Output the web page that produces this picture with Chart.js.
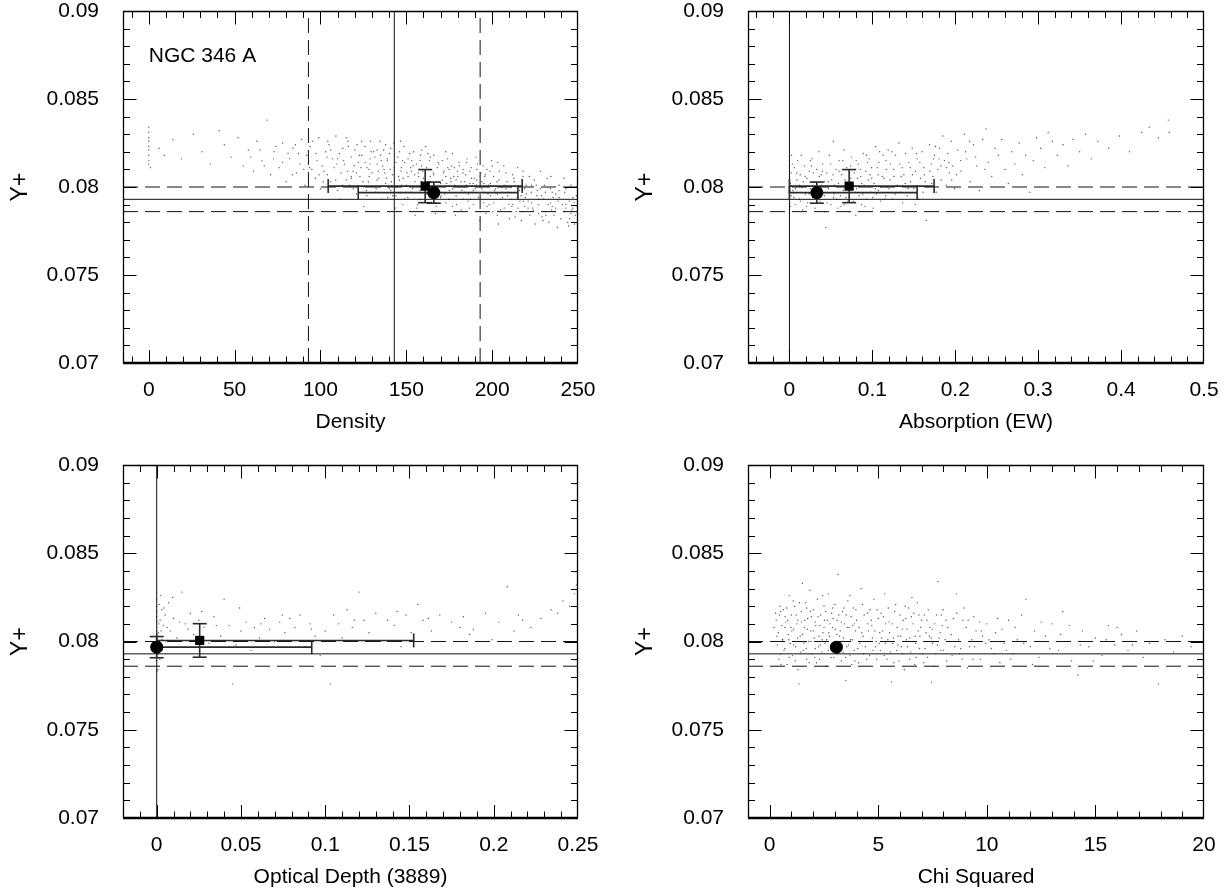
<!DOCTYPE html>
<html><head><meta charset="utf-8">
<script src="https://cdn.jsdelivr.net/npm/chart.js@4.4.1/dist/chart.umd.min.js"></script>
<style>
html,body{margin:0;padding:0;background:#fff;}
body{width:1231px;height:894px;position:relative;overflow:hidden;}
canvas{position:absolute;display:block;}
</style></head><body>
<canvas id="c1" width="615" height="447" style="left:0;top:0"></canvas>
<canvas id="c2" width="616" height="447" style="left:615px;top:0"></canvas>
<canvas id="c3" width="615" height="447" style="left:0;top:447px"></canvas>
<canvas id="c4" width="616" height="447" style="left:615px;top:447px"></canvas>
<script>
// ---------- tick labels ----------
const yTicks = [0.07, 0.075, 0.08, 0.085, 0.09];
const yTickLabels = ['0.07', '0.075', '0.08', '0.085', '0.09'];
const densityTicks = [0, 50, 100, 150, 200, 250];
const densityTickLabels = ['0', '50', '100', '150', '200', '250'];
const absorptionTicks = [0, 0.1, 0.2, 0.3, 0.4, 0.5];
const absorptionTickLabels = ['0', '0.1', '0.2', '0.3', '0.4', '0.5'];
const depthTicks = [0, 0.05, 0.1, 0.15, 0.2, 0.25];
const depthTickLabels = ['0', '0.05', '0.1', '0.15', '0.2', '0.25'];
const chiTicks = [0, 5, 10, 15, 20];
const chiTickLabels = ['0', '5', '10', '15', '20'];

// ---------- reference lines ----------
const yMean = 0.0793;
const yBand = [0.0800, 0.0786];
const densityMean = [143];
const densityBand = [93, 193];
const absorptionZero = [0];
const depthZero = [0];

// ---------- best-fit points: x, y, x-err(-), x-err(+), y-err(-), y-err(+) ----------
const densitySquare = [161, 0.08005, 56.5, 56.5, 0.00094, 0.00094];
const densityCircle = [166, 0.07968, 44, 49, 0.0006, 0.0006];
const absorptionSquare = [0.072, 0.08005, 0.072, 0.1025, 0.00094, 0.00094];
const absorptionCircle = [0.033, 0.07968, 0.033, 0.121, 0.0006, 0.0006];
const depthSquare = [0.0255, 0.08006, 0.0255, 0.127, 0.00095, 0.00095];
const depthCircle = [0, 0.07968, 0, 0.092, 0.0006, 0.0006];
const chiCircle = [3.07, 0.07968];

// ---------- Monte-Carlo realisations ----------
const densityPts = [
[0,0.0834],[0,0.0831],[0,0.0828],[0,0.0826],[0,0.0823],[0,0.0821],[0,0.0818],[0,0.0815],[0,0.0813],[1,0.0811],
[6,0.0822],[9,0.0818],[14,0.0827],[19,0.0816],[26,0.0830],[31,0.0820],[36,0.0813],[41,0.0832],[44,0.0824],[48,0.0817],
[52,0.0828],[55,0.0812],[58,0.0821],[61,0.0809],[63,0.0826],[66,0.0815],[69,0.0838],[71,0.0807],[73,0.0820],[76,0.0811],
[78,0.0825],[80,0.0803],[82,0.0816],[84,0.0822],[86,0.0808],[88,0.0813],[89,0.0827],[91,0.0801],[92,0.0818],
[94,0.0823],[95,0.0810],[97,0.0805],[98,0.0815],[99,0.0828],[100,0.0799],[101,0.0812],[103,0.0820],[104,0.0807],[105,0.0824],
[106,0.0803],[107,0.0816],[108,0.0811],[109,0.0829],[110,0.0798],[111,0.0819],[112,0.0808],[113,0.0822],[114,0.0813],[115,0.0804],
[116,0.0826],[117,0.0801],[118,0.0817],[119,0.0809],[120,0.0821],[121,0.0796],[122,0.0814],[123,0.0806],[124,0.0818],[125,0.0800],
[126,0.0823],[127,0.0811],[128,0.0803],[129,0.0816],[130,0.0808],
[131,0.0820],[132,0.0797],[133,0.0813],[134,0.0805],[135,0.0818],[136,0.0793],[137,0.0810],[138,0.0802],[139,0.0815],[140,0.0799],
[141,0.0822],[142,0.0807],[143,0.0811],[144,0.0795],[145,0.0817],[146,0.0804],[147,0.0809],[148,0.0790],[149,0.0814],[150,0.0801],
[151,0.0806],[152,0.0819],[153,0.0797],[154,0.0812],[155,0.0803],[156,0.0788],[157,0.0808],[158,0.0815],[159,0.0799],[160,0.0805],
[161,0.0792],[162,0.0810],[163,0.0802],[164,0.0817],[165,0.0796],[166,0.0807],[167,0.0785],[168,0.0800],[169,0.0813],[170,0.0794],
[171,0.0804],[172,0.0809],[173,0.0791],[174,0.0816],[175,0.0798],[176,0.0803],[177,0.0789],[178,0.0811],[179,0.0795],[180,0.0806],
[181,0.0800],[182,0.0787],[183,0.0808],[184,0.0797],[185,0.0814],[186,0.0792],[187,0.0802],[188,0.0805],[189,0.0790],[190,0.0799],
[191,0.0810],[192,0.0794],[193,0.0786],[194,0.0803],[195,0.0797],[196,0.0807],[197,0.0789],[198,0.0801],[199,0.0795],[200,0.0812],
[201,0.0791],[202,0.0799],[203,0.0784],[204,0.0804],[205,0.0793],[206,0.0797],[207,0.0788],[208,0.0808],[209,0.0795],[210,0.0782],
[211,0.0800],[212,0.0790],[213,0.0803],[214,0.0786],[215,0.0794],[216,0.0798],[217,0.0781],[218,0.0806],[219,0.0789],[220,0.0796],
[221,0.0792],[222,0.0784],[223,0.0801],[224,0.0787],[225,0.0779],[226,0.0795],[227,0.0790],[228,0.0799],[229,0.0783],[230,0.0793],
[231,0.0786],[232,0.0805],[233,0.0780],[234,0.0791],[235,0.0797],[236,0.0784],[237,0.0788],[238,0.0777],[239,0.0794],[240,0.0782],
[241,0.0790],[242,0.0786],[243,0.0799],[244,0.0780],[245,0.0792],[246,0.0785],[247,0.0788],[248,0.0779],[249,0.0795],[250,0.0783],
[121,0.0808],[124,0.0826],[127,0.0795],[133,0.0821],[135,0.0800],[138,0.0824],[141,0.0798],[144,0.0814],[146,0.0820],[149,0.0793],
[151,0.0816],[153,0.0809],[156,0.0813],[158,0.0798],[159,0.0821],[162,0.0796],[164,0.0803],[166,0.0818],[168,0.0811],[170,0.0802],
[171,0.0815],[173,0.0806],[175,0.0810],[177,0.0799],[179,0.0804],[181,0.0812],[183,0.0793],[185,0.0801],[187,0.0809],[189,0.0798],
[191,0.0804],[193,0.0800],[195,0.0791],[197,0.0810],[199,0.0802],[203,0.0796],[207,0.0801],[211,0.0793],[215,0.0788],[219,0.0799],
[223,0.0791],[227,0.0785],[231,0.0797],[235,0.0789],[239,0.0801],[243,0.0790],[247,0.0794],[129,0.0826],[115,0.0828],[110,0.0816],
[106,0.0821],[102,0.0809],[118,0.0805],[126,0.0814],
[97.4,0.0819],[112.8,0.0801],[104.3,0.0826],[119.6,0.0812],[108.9,0.0804],[131.7,0.0817],[125.2,0.0789],[137.5,0.0808],[142.8,0.0825],[128.4,0.0806],
[147.3,0.0801],[139.1,0.0794],[152.6,0.0811],[157.9,0.0793],[145.5,0.0806],[163.4,0.0815],[169.8,0.0797],[154.2,0.0820],[171.6,0.0808],[176.3,0.0812],
[160.7,0.0801],[181.9,0.0803],[167.4,0.0789],[186.2,0.0796],[174.8,0.0793],[190.5,0.0817],[178.6,0.0784],[195.7,0.0806],[183.1,0.0810],[201.4,0.0798],
[188.9,0.0802],[206.8,0.0812],[196.3,0.0785],[211.5,0.0789],[204.2,0.0809],[216.9,0.0795],[208.7,0.0803],[221.6,0.0806],[213.4,0.0783],[226.3,0.0798],
[218.2,0.0792],[232.7,0.0790],[224.5,0.0804],[237.1,0.0796],[229.6,0.0781],[241.8,0.0805],[233.9,0.0799],[246.5,0.0787],[238.4,0.0792],[249.2,0.0800],
[116.3,0.0823],[122.7,0.0818],[134.6,0.0826],[148.7,0.0823],[158.3,0.0818],[172.9,0.0820],[185.4,0.0816],[199.6,0.0815],[214.8,0.0811],[228.1,0.0809],
[132.4,0.0799],[143.6,0.0788],[155.1,0.0784],[166.9,0.0791],[179.2,0.0790],[192.8,0.0781],[203.7,0.0779],[217.4,0.0786],[231.2,0.0784],[244.6,0.0778],
[111.2,0.0793],[126.8,0.0798],[138.9,0.0816],[150.4,0.0808],[161.8,0.0811],[173.5,0.0802],[184.6,0.0807],[194.1,0.0799],[206.1,0.0794],[219.8,0.0801],
[235.6,0.0794],[247.8,0.0791],[101.6,0.0803],[93.7,0.0811],[87.2,0.0819],[83.6,0.0807],[77.9,0.0814],[74.1,0.0823],[67.3,0.0812],[59.4,0.0817],
[136.2,0.0812],[141.3,0.0803],[147.9,0.0815],[153.7,0.0799],[157.2,0.0806],[164.9,0.0800],[168.6,0.0814],[177.7,0.0806],[182.4,0.0798],[187.8,0.0811],
[193.4,0.0808],[198.2,0.0790],[202.9,0.0803],[209.3,0.0797],[212.6,0.0805],[220.9,0.0788],[225.7,0.0801],[236.5,0.0786],[242.3,0.0797],[248.4,0.0784],
[119.1,0.0799],[123.6,0.0811],[129.5,0.0820],[133.8,0.0809],[140.2,0.0819],[149.9,0.0797],[159.6,0.0809],[170.3,0.0795],[180.7,0.0814],[189.6,0.0805],
[113.5,0.0815],[117.9,0.0806],[121.3,0.0824],[124.8,0.0803],[128.9,0.0813],[132.9,0.0804],[136.8,0.0821],[140.7,0.0810],[144.3,0.0800],[147.1,0.0811],
[150.9,0.0794],[154.8,0.0807],[158.7,0.0803],[162.6,0.0819],[165.8,0.0808],[169.2,0.0803],[172.4,0.0796],[175.9,0.0805],[179.8,0.0809],[183.7,0.0800],
[187.3,0.0793],[190.9,0.0801],[194.7,0.0812],[197.6,0.0796],[200.8,0.0806],[204.9,0.0787],[208.1,0.0799],[211.9,0.0807],[215.7,0.0800],[219.3,0.0794],
[222.8,0.0797],[226.9,0.0793],[230.4,0.0801],[234.6,0.0787],[238.9,0.0798],[242.9,0.0788],[245.9,0.0801],[249.6,0.0789],[203.2,0.0814],[217.9,0.0809],
[142.1,0.0795],[156.6,0.0790],[171.2,0.0786],[186.7,0.0788],[200.3,0.0786],[161.3,0.0823],[146.6,0.0826],[176.9,0.0819],[191.4,0.0813],[135.4,0.0815],
[115.8,0.0809],[109.6,0.0813],[103.9,0.0817],[99.2,0.0807],[95.6,0.0826],[90.3,0.0810],[85.4,0.0824],[81.1,0.0819],[72.6,0.0816],[64.8,0.0821],
[167.9,0.0799],[178.1,0.0801],[188.3,0.0797],[198.7,0.0809],[209.8,0.0790],[223.4,0.0788],[234.2,0.0806],[245.1,0.0782],[153.2,0.0815],[163.9,0.0806],
[128.2,0.0810],[138.3,0.0805],[148.2,0.0805],[158.9,0.0812],[174.2,0.0811],[184.1,0.0803],[195.2,0.0802],[205.6,0.0800],[216.2,0.0792],[228.8,0.0795]
];
const absorptionPts = [
[0,0.0785],[0,0.0788],[0,0.0791],[0,0.0794],[0,0.0797],[0,0.0800],[0,0.0803],[0,0.0806],[0,0.0809],[0,0.0812],[0,0.0815],
[0.001,0.0789],[0.001,0.0802],[0.002,0.0795],[0.002,0.0808],
[0.004,0.0798],[0.006,0.0811],[0.007,0.0790],[0.009,0.0804],[0.010,0.0815],[0.012,0.0793],[0.013,0.0807],[0.015,0.0800],[0.016,0.0787],
[0.018,0.0812],[0.019,0.0796],[0.021,0.0805],[0.022,0.0791],[0.024,0.0809],[0.025,0.0799],[0.027,0.0816],[0.028,0.0794],[0.030,0.0803],
[0.031,0.0788],[0.033,0.0810],[0.034,0.0797],[0.036,0.0806],[0.037,0.0792],[0.039,0.0801],[0.040,0.0813],[0.042,0.0795],[0.043,0.0786],
[0.044,0.0777],[0.045,0.0808],[0.047,0.0799],[0.048,0.0818],[0.050,0.0790],[0.051,0.0804],[0.053,0.0826],[0.054,0.0796],[0.056,0.0810],
[0.057,0.0793],[0.059,0.0802],[0.060,0.0815],[0.062,0.0789],[0.063,0.0807],[0.065,0.0798],[0.066,0.0821],[0.068,0.0794],[0.069,0.0811],
[0.071,0.0800],[0.072,0.0786],[0.074,0.0805],[0.075,0.0817],[0.077,0.0792],[0.078,0.0808],[0.080,0.0784],[0.081,0.0799],[0.083,0.0813],
[0.084,0.0795],[0.086,0.0806],[0.087,0.0790],[0.089,0.0819],[0.090,0.0801],[0.092,0.0809],[0.093,0.0793],[0.095,0.0804],[0.096,0.0816],
[0.098,0.0797],[0.099,0.0811],[0.101,0.0788],[0.102,0.0802],[0.104,0.0823],[0.105,0.0796],[0.107,0.0807],[0.108,0.0814],[0.110,0.0792],
[0.111,0.0800],[0.113,0.0818],[0.114,0.0805],[0.116,0.0795],[0.117,0.0810],[0.119,0.0821],[0.120,0.0799],
[0.122,0.0813],[0.124,0.0793],[0.126,0.0806],[0.128,0.0818],[0.130,0.0801],[0.132,0.0825],[0.134,0.0797],[0.136,0.0811],[0.138,0.0807],
[0.140,0.0819],[0.142,0.0795],[0.144,0.0814],[0.146,0.0803],[0.148,0.0822],[0.150,0.0799],[0.152,0.0809],[0.154,0.0816],[0.156,0.0793],
[0.158,0.0805],[0.160,0.0820],[0.162,0.0811],[0.165,0.0781],[0.167,0.0800],[0.169,0.0824],[0.171,0.0813],[0.173,0.0806],[0.175,0.0818],
[0.177,0.0797],[0.179,0.0810],[0.181,0.0822],[0.183,0.0804],[0.185,0.0829],[0.187,0.0815],[0.189,0.0801],[0.191,0.0819],[0.193,0.0808],
[0.195,0.0826],[0.197,0.0812],[0.199,0.0799],
[0.203,0.0821],[0.207,0.0809],[0.211,0.0830],[0.214,0.0816],[0.218,0.0803],[0.222,0.0824],[0.226,0.0812],[0.229,0.0798],[0.233,0.0827],
[0.237,0.0833],[0.240,0.0814],[0.244,0.0806],[0.248,0.0822],[0.252,0.0818],[0.256,0.0827],[0.260,0.0810],[0.264,0.0802],[0.268,0.0820],
[0.272,0.0813],[0.277,0.0825],[0.281,0.0807],[0.285,0.0818],[0.290,0.0797],[0.294,0.0815],[0.298,0.0828],[0.303,0.0822],[0.308,0.0811],
[0.312,0.0831],[0.317,0.0826],[0.323,0.0818],[0.330,0.0824],[0.336,0.0812],[0.342,0.0827],[0.350,0.0820],[0.357,0.0830],[0.364,0.0816],
[0.372,0.0826],[0.385,0.0822],[0.398,0.0829],[0.410,0.0820],[0.425,0.0831],[0.434,0.0834],[0.445,0.0828],[0.457,0.0838],[0.458,0.0831],
[0.0035,0.0813],[0.0118,0.0801],[0.0206,0.0789],[0.0264,0.0812],[0.0317,0.0795],[0.0382,0.0807],[0.0453,0.0791],[0.0498,0.0813],[0.0547,0.0801],[0.0615,0.0795],
[0.0672,0.0804],[0.0738,0.0812],[0.0793,0.0797],[0.0856,0.0810],[0.0911,0.0789],[0.0972,0.0807],[0.1035,0.0799],[0.1088,0.0820],[0.1147,0.0793],[0.1213,0.0804],
[0.1276,0.0796],[0.1332,0.0813],[0.1395,0.0802],[0.1457,0.0811],[0.1518,0.0790],[0.1573,0.0814],[0.1638,0.0803],[0.1694,0.0809],[0.1762,0.0823],[0.1826,0.0812],
[0.0142,0.0818],[0.0238,0.0796],[0.0355,0.0820],[0.0421,0.0803],[0.0583,0.0788],[0.0644,0.0815],[0.0705,0.0792],[0.0821,0.0805],[0.0943,0.0814],[0.1004,0.0794],
[0.1118,0.0806],[0.1236,0.0820],[0.1364,0.0791],[0.1483,0.0807],[0.1611,0.0797],[0.1737,0.0816],[0.1894,0.0811],[0.1957,0.0804],[0.2065,0.0815],[0.2174,0.0826],
[0.0052,0.0794],[0.0087,0.0808],[0.0166,0.0803],[0.0289,0.0808],[0.0402,0.0797],[0.0526,0.0807],[0.0768,0.0801],[0.0884,0.0796],[0.1061,0.0811],[0.1179,0.0800],
[0.0025,0.0818],[0.0074,0.0799],[0.0132,0.0792],[0.0189,0.0806],[0.0253,0.0815],[0.0328,0.0791],[0.0397,0.0809],[0.0467,0.0803],[0.0532,0.0794],[0.0598,0.0809],
[0.0659,0.0790],[0.0727,0.0808],[0.0805,0.0815],[0.0872,0.0802],[0.0929,0.0818],[0.0993,0.0805],[0.1072,0.0798],[0.1164,0.0815],[0.1256,0.0810],[0.1347,0.0806],
[0.1432,0.0799],[0.1532,0.0819],[0.1627,0.0807],[0.1716,0.0802],[0.1805,0.0816],[0.1923,0.0814],[0.2013,0.0807],[0.2125,0.0820],[0.2246,0.0817],[0.2357,0.0810]
];
const depthPts = [
[0,0.0783],[0,0.0786],[0,0.0789],[0,0.0791],[0,0.0794],[0,0.0796],[0,0.0799],[0,0.0801],[0,0.0803],[0,0.0806],[0,0.0808],[0,0.0811],
[0,0.0814],[0,0.0817],[0,0.0820],[0,0.0824],[0,0.0828],[0.001,0.0793],[0.001,0.0805],[0.002,0.0812],[0.002,0.0798],[0.003,0.0818],
[0.003,0.0801],[0.004,0.0809],[0.005,0.0815],
[0.007,0.0822],[0.008,0.0806],[0.010,0.0813],[0.012,0.0802],[0.015,0.0828],[0.017,0.0810],[0.020,0.0816],[0.022,0.0804],[0.025,0.0812],
[0.028,0.0808],[0.031,0.0799],[0.034,0.0814],[0.038,0.0803],[0.040,0.0824],[0.043,0.0809],[0.045,0.0776],[0.047,0.0798],[0.050,0.0806],
[0.053,0.0811],[0.056,0.0795],[0.058,0.0808],[0.061,0.0802],[0.064,0.0813],[0.067,0.0807],[0.070,0.0800],[0.073,0.0811],[0.076,0.0805],
[0.079,0.0813],[0.082,0.0808],[0.085,0.0815],[0.088,0.0797],[0.091,0.0810],[0.094,0.0803],[0.097,0.0792],[0.100,0.0806],[0.103,0.0776],
[0.105,0.0815],[0.108,0.0810],[0.110,0.0802],[0.113,0.0818],[0.116,0.0808],[0.120,0.0828],[0.123,0.0812],[0.126,0.0805],[0.130,0.0816],
[0.133,0.0800],[0.137,0.0812],[0.141,0.0809],[0.145,0.0797],[0.148,0.0815],[0.151,0.0805],[0.155,0.0821],[0.158,0.0812],[0.163,0.0806],
[0.168,0.0815],[0.175,0.0811],[0.180,0.0808],[0.182,0.0814],[0.188,0.0807],[0.195,0.0816],[0.199,0.0801],[0.203,0.0811],[0.208,0.0831],
[0.212,0.0806],[0.217,0.0812],[0.222,0.0808],[0.228,0.0813],[0.234,0.0818],[0.238,0.0816],[0.241,0.0823],[0.245,0.0820],[0.248,0.0827],
[0.249,0.0832],
[0.0006,0.0784],[0.0008,0.0797],[0.0012,0.0810],[0.0015,0.0821],[0.0018,0.0790],[0.0022,0.0826],[0.0026,0.0806],[0.0031,0.0795],
[0.0043,0.0819],[0.0062,0.0808],[0.0094,0.0825],[0.0135,0.0811],[0.0186,0.0807],[0.0268,0.0817],[0.0354,0.0809],[0.0492,0.0819],
[0.0618,0.0810],[0.0745,0.0815],[0.0918,0.0807],[0.1172,0.0812],[0.1426,0.0817],[0.1612,0.0813],[0.1857,0.0804],[0.2146,0.0815]
];
const chiPts = [
[0.2,0.0808],[0.3,0.0812],[0.35,0.0798],[0.4,0.0805],[0.45,0.0815],[0.5,0.0793],[0.55,0.0809],[0.6,0.0801],[0.62,0.0818],[0.7,0.0796],
[0.75,0.0811],[0.8,0.0787],[0.85,0.0804],[0.9,0.0826],[0.95,0.0799],[1.0,0.0815],[1.05,0.0792],[1.1,0.0807],[1.15,0.0820],[1.2,0.0797],
[1.25,0.0810],[1.3,0.0784],[1.35,0.0776],[1.4,0.0803],[1.45,0.0817],[1.5,0.0833],[1.55,0.0795],[1.6,0.0808],[1.65,0.0822],[1.7,0.0790],
[1.75,0.0813],[1.8,0.0800],[1.85,0.0829],[1.9,0.0806],[1.95,0.0793],
[2.0,0.0818],[2.05,0.0802],[2.1,0.0811],[2.15,0.0788],[2.2,0.0824],[2.25,0.0797],[2.3,0.0809],[2.35,0.0815],[2.4,0.0794],[2.45,0.0805],
[2.5,0.0820],[2.55,0.0799],[2.6,0.0786],[2.65,0.0812],[2.7,0.0827],[2.75,0.0803],[2.8,0.0796],[2.85,0.0816],[2.9,0.0808],[2.95,0.0791],
[3.0,0.0821],[3.05,0.0800],[3.1,0.0812],[3.15,0.0838],[3.2,0.0795],[3.25,0.0806],[3.3,0.0789],[3.35,0.0817],[3.4,0.0802],[3.45,0.0810],
[3.5,0.0778],[3.55,0.0797],[3.6,0.0823],[3.65,0.0808],[3.7,0.0792],[3.75,0.0814],[3.8,0.0801],[3.85,0.0819],[3.9,0.0795],[3.95,0.0806],
[4.0,0.0812],[4.1,0.0788],[4.2,0.0830],[4.3,0.0803],[4.4,0.0797],[4.5,0.0816],[4.6,0.0792],[4.7,0.0809],[4.8,0.0824],[4.9,0.0800],
[5.0,0.0813],[5.1,0.0795],[5.2,0.0806],[5.3,0.0827],[5.4,0.0790],[5.5,0.0811],[5.6,0.0777],[5.7,0.0802],[5.8,0.0821],[5.9,0.0798],
[6.0,0.0815],[6.1,0.0807],[6.2,0.0784],[6.3,0.0801],[6.4,0.0819],[6.5,0.0794],[6.6,0.0810],[6.7,0.0803],[6.8,0.0822],[6.9,0.0796],
[7.0,0.0812],[7.1,0.0788],[7.2,0.0805],[7.3,0.0818],[7.45,0.0777],[7.5,0.0799],[7.6,0.0810],[7.75,0.0834],[7.8,0.0802],[7.9,0.0815],
[8.0,0.0795],[8.2,0.0808],[8.4,0.0792],[8.6,0.0827],[8.7,0.0801],[8.9,0.0812],[9.1,0.0785],[9.2,0.0797],[9.4,0.0814],[9.5,0.0806],
[9.7,0.0790],[9.8,0.0803],[10.0,0.0810],[10.2,0.0796],
[10.4,0.0805],[10.6,0.0788],[10.8,0.0799],[11.0,0.0812],[11.2,0.0793],[11.4,0.0801],[11.6,0.0815],[11.8,0.0824],[12.0,0.0797],[12.2,0.0806],
[12.4,0.0791],[12.7,0.0803],[13.0,0.0810],[13.3,0.0795],[13.5,0.0817],[13.7,0.0800],[13.9,0.0789],[14.2,0.0781],[14.4,0.0806],[14.7,0.0797],
[15.0,0.0802],[15.3,0.0792],[15.6,0.0809],[15.9,0.0798],[16.2,0.0804],[16.5,0.0795],[16.9,0.0806],[17.2,0.0791],[17.5,0.0799],[17.9,0.0776],
[18.2,0.0801],[18.6,0.0794],[19.0,0.0803],[19.4,0.0797],[19.7,0.0781],
[0.5,0.0817],[0.7,0.0808],[0.9,0.0791],[1.1,0.0798],[1.3,0.0812],[1.5,0.0804],[1.7,0.0819],[1.9,0.0800],[2.1,0.0796],[2.3,0.0790],
[2.5,0.0808],[2.7,0.0795],[2.9,0.0819],[3.1,0.0804],[3.3,0.0811],[3.5,0.0791],[3.7,0.0826],[3.9,0.0810],[4.15,0.0799],[4.35,0.0815],
[4.55,0.0806],[4.75,0.0795],[4.95,0.0818],[5.15,0.0802],[5.35,0.0810],[5.55,0.0794],[5.75,0.0817],[5.95,0.0789],[6.15,0.0812],[6.35,0.0797],
[6.55,0.0825],[6.75,0.0791],[6.95,0.0808],[7.15,0.0796],[7.35,0.0803],[7.65,0.0793],[7.95,0.0809],[8.3,0.0800],[8.8,0.0796],[9.3,0.0801],
[0.33,0.0803],[0.48,0.0820],[0.66,0.0795],[0.83,0.0812],[1.02,0.0806],[1.18,0.0789],[1.37,0.0822],[1.58,0.0799],[1.73,0.0807],[1.92,0.0814],
[2.08,0.0791],[2.27,0.0803],[2.43,0.0826],[2.62,0.0801],[2.78,0.0810],[2.97,0.0797],[3.18,0.0815],[3.38,0.0794],[3.57,0.0808],[3.78,0.0787],
[3.97,0.0818],[4.24,0.0805],[4.47,0.0790],[4.68,0.0812],[4.88,0.0797],[5.07,0.0805],[5.28,0.0792],[5.46,0.0819],[5.67,0.0799],[5.87,0.0808],
[6.07,0.0797],[6.27,0.0813],[6.46,0.0802],[6.68,0.0787],[6.87,0.0815],[7.08,0.0800],[7.27,0.0791],[7.48,0.0807],[7.72,0.0798],[7.98,0.0818],
[8.15,0.0789],[8.46,0.0813],[8.74,0.0793],[9.05,0.0808],[9.36,0.0790],[9.66,0.0811],[9.95,0.0799],[10.33,0.0793],[10.7,0.0807],[11.1,0.0790],
[0.42,0.0790],[0.58,0.0801],[0.78,0.0819],[0.97,0.0808],[1.22,0.0815],[1.43,0.0794],[1.62,0.0812],[1.82,0.0788],[2.02,0.0806],[2.22,0.0814],
[2.41,0.0801],[2.58,0.0817],[2.83,0.0791],[3.02,0.0807],[3.22,0.0803],[3.42,0.0819],[3.62,0.0798],[3.82,0.0809],[4.05,0.0796],[4.27,0.0821],
[4.52,0.0810],[4.73,0.0802],[4.93,0.0790],[5.13,0.0816],[5.32,0.0799],[5.52,0.0805],[5.72,0.0788],[5.92,0.0803],[6.12,0.0793],[6.32,0.0807],
[6.52,0.0814],[6.72,0.0799],[6.92,0.0803],[7.12,0.0815],[7.38,0.0808],[7.57,0.0786],[7.85,0.0805],[8.08,0.0801],[8.52,0.0797],[8.95,0.0819],
[0.27,0.0816],[0.52,0.0787],[0.71,0.0814],[0.88,0.0801],[1.08,0.0823],[1.28,0.0802],[1.47,0.0811],[1.68,0.0796],[1.87,0.0817],[2.12,0.0809],
[2.33,0.0798],[2.52,0.0812],[2.72,0.0805],[2.92,0.0813],[3.12,0.0793],[3.32,0.0800],[3.52,0.0815],[3.72,0.0801],[3.92,0.0789],[4.12,0.0808],
[4.32,0.0793],[4.62,0.0818],[4.84,0.0806],[5.04,0.0799],[5.24,0.0814],[5.44,0.0801],[5.64,0.0810],[5.84,0.0795],[6.04,0.0803],[6.24,0.0820],
[6.44,0.0790],[6.64,0.0816],[6.84,0.0806],[7.04,0.0793],[7.24,0.0812],[7.44,0.0802],[7.68,0.0815],[7.88,0.0795],[8.12,0.0812],[8.36,0.0804],
[8.62,0.0816],[8.86,0.0790],[9.14,0.0812],[9.44,0.0797],[9.74,0.0806],[10.1,0.0801],[10.5,0.0813],[10.9,0.0795],[11.3,0.0808],[11.7,0.0799],
[12.1,0.0787],[12.5,0.0811],[12.9,0.0796],[13.4,0.0804],[13.8,0.0809],[14.3,0.0798],[14.9,0.0789],[15.5,0.0801],[16.0,0.0808],[16.7,0.0798]
];

// ---------- drawing ----------
const FONT = '"Liberation Sans", Arial, Helvetica, sans-serif';
const FS = 21;

const framePlugin = {
  id: 'frame',
  afterDraw(chart, args, o) {
    const ctx = chart.ctx, a = chart.chartArea, xs = chart.scales.x, ys = chart.scales.y;
    ctx.save();
    ctx.strokeStyle = '#000';
    ctx.lineWidth = 1;
    const L = Math.round(a.left) + 0.5, R = Math.round(a.right) - 0.5, T = Math.round(a.top) + 0.5, B = Math.round(a.bottom);
    const tick = (list, len) => {
      ctx.beginPath();
      list.forEach(v => {
        const px = Math.round(xs.getPixelForValue(v)) + 0.5;
        if (px < L - 0.1 || px > R + 0.1) return;
        ctx.moveTo(px, B); ctx.lineTo(px, B - len);
        ctx.moveTo(px, T); ctx.lineTo(px, T + len);
      });
      ctx.stroke();
    };
    const ytick = (list, len) => {
      ctx.beginPath();
      list.forEach(v => {
        const py = Math.round(ys.getPixelForValue(v)) + 0.5;
        ctx.moveTo(L, py); ctx.lineTo(L + len, py);
        ctx.moveTo(R, py); ctx.lineTo(R - len, py);
      });
      ctx.stroke();
    };
    tick(o.xMinor, 6.5); tick(o.xMajor, 13);
    ytick(o.yMinor, 6.5); ytick(o.yMajor, 13);
    ctx.lineWidth = 1.3;
    ctx.beginPath();
    ctx.moveTo(L, B); ctx.lineTo(L, T); ctx.lineTo(R, T); ctx.lineTo(R, B);
    ctx.stroke();
    ctx.lineWidth = 2.4;
    ctx.beginPath(); ctx.moveTo(a.left, B); ctx.lineTo(a.right, B); ctx.stroke();
    ctx.fillStyle = '#000';
    ctx.font = FS + 'px ' + FONT;
    ctx.textAlign = 'center'; ctx.textBaseline = 'middle';
    ctx.fillText(o.xTitle, (a.left + a.right) / 2, a.bottom + 59);
    ctx.save();
    ctx.translate(a.left - 102, (a.top + a.bottom) / 2);
    ctx.rotate(-Math.PI / 2);
    ctx.font = '23px ' + FONT;
    ctx.fillText('Y+', 0, 0);
    ctx.restore();
    if (o.note) {
      ctx.textAlign = 'left';
      ctx.fillText(o.note.text, xs.getPixelForValue(o.note.x), ys.getPixelForValue(o.note.y));
    }
    ctx.restore();
  }
};

function pts(arr) { return arr.map(p => ({ x: p[0], y: p[1] })); }

function minorList(min, max, step) {
  const out = [];
  for (let i = Math.ceil(min / step - 1e-9); i * step <= max + 1e-9; i++) out.push(+(i * step).toFixed(6));
  return out;
}

function makePanel(id, c) {
  const ds = [];
  ds.push({ data: pts(c.points), showLine: false, pointRadius: 0.7, pointBorderWidth: 0,
            pointBackgroundColor: '#555', pointBorderColor: '#555', order: 10 });
  const hLine = (v, dash) => ({ data: [{ x: c.xMin, y: v }, { x: c.xMax, y: v }], showLine: true,
            borderColor: '#111', borderWidth: 1, borderDash: dash, pointRadius: 0, order: 5 });
  const vLine = (v, dash) => ({ data: [{ x: v, y: 0.07 }, { x: v, y: 0.09 }], showLine: true,
            borderColor: '#111', borderWidth: 1, borderDash: dash, pointRadius: 0, order: 5 });
  ds.push(hLine(yMean, []));
  yBand.forEach(v => ds.push(hLine(v, [15, 7])));
  (c.vSolid || []).forEach(v => ds.push(vLine(v, [])));
  (c.vDash || []).forEach(v => ds.push(vLine(v, [15, 7])));
  (c.markers || []).forEach(m => {
    const [x, y, xm, xp, ym, yp] = m.v;
    if (xm !== undefined) {
      const bar = (data, rot) => ({ data, showLine: true, borderColor: '#2a2a2a', borderWidth: 1.6,
              pointStyle: 'line', pointRadius: 7, pointRotation: rot, pointBorderColor: '#2a2a2a',
              pointBorderWidth: 1.6, order: 2 });
      ds.push(bar([{ x: x - xm, y: y }, { x: x + xp, y: y }], 90));
      ds.push(bar([{ x: x, y: y - ym }, { x: x, y: y + yp }], 0));
    }
    ds.push({ data: [{ x: x, y: y }], showLine: false, pointStyle: m.style,
              pointRadius: m.style === 'rect' ? 6.5 : 6.5, pointBackgroundColor: '#000',
              pointBorderColor: '#000', pointBorderWidth: 0, order: 0 });
  });

  const tickFont = { family: FONT, size: FS, lineHeight: 1 };
  new Chart(document.getElementById(id), {
    type: 'scatter',
    data: { datasets: ds },
    plugins: [framePlugin],
    options: {
      responsive: false, animation: false, devicePixelRatio: 1, events: [],
      layout: { padding: { left: 0, top: c.area.t, right: c.w - c.area.r, bottom: 0 } },
      plugins: {
        legend: { display: false }, tooltip: { enabled: false },
        frame: { xTitle: c.xTitle, xMajor: c.xTicks, xMinor: minorList(c.xMin, c.xMax, c.xMinorStep),
                 yMajor: yTicks, yMinor: minorList(0.07, 0.09, 0.001), note: c.note }
      },
      scales: {
        x: {
          type: 'linear', min: c.xMin, max: c.xMax,
          afterBuildTicks: s => { s.ticks = c.xTicks.map(v => ({ value: v })); },
          afterFit: s => { s.height = c.h - c.area.b; s.paddingLeft = 0; s.paddingRight = 0; },
          ticks: { font: tickFont, color: '#000', padding: 17, maxRotation: 0, autoSkip: false,
                   callback: (v) => c.xLabels[c.xTicks.indexOf(v)] },
          grid: { display: false, drawTicks: false }, border: { display: false }
        },
        y: {
          type: 'linear', min: 0.07, max: 0.09,
          afterBuildTicks: s => { s.ticks = yTicks.map(v => ({ value: v })); },
          afterFit: s => { s.width = c.area.l; s.paddingTop = 0; s.paddingBottom = 0; },
          ticks: { font: tickFont, color: '#000', padding: 24, autoSkip: false,
                   callback: (v) => yTickLabels[yTicks.indexOf(v)] },
          grid: { display: false, drawTicks: false }, border: { display: false }
        }
      }
    }
  });
}

makePanel('c1', { w: 615, h: 447, area: { l: 123, t: 11, r: 578, b: 363 },
  xMin: -15, xMax: 250, xTicks: densityTicks, xLabels: densityTickLabels, xMinorStep: 10,
  xTitle: 'Density', points: densityPts, vSolid: densityMean, vDash: densityBand,
  markers: [{ v: densitySquare, style: 'rect' }, { v: densityCircle, style: 'circle' }],
  note: { text: 'NGC 346 A', x: 0, y: 0.08745 } });

makePanel('c2', { w: 616, h: 447, area: { l: 133, t: 11, r: 589, b: 363 },
  xMin: -0.05, xMax: 0.5, xTicks: absorptionTicks, xLabels: absorptionTickLabels, xMinorStep: 0.02,
  xTitle: 'Absorption (EW)', points: absorptionPts, vSolid: absorptionZero,
  markers: [{ v: absorptionSquare, style: 'rect' }, { v: absorptionCircle, style: 'circle' }] });

makePanel('c3', { w: 615, h: 447, area: { l: 123, t: 18, r: 578, b: 371 },
  xMin: -0.02, xMax: 0.25, xTicks: depthTicks, xLabels: depthTickLabels, xMinorStep: 0.01,
  xTitle: 'Optical Depth (3889)', points: depthPts, vSolid: depthZero,
  markers: [{ v: depthSquare, style: 'rect' }, { v: depthCircle, style: 'circle' }] });

makePanel('c4', { w: 616, h: 447, area: { l: 133, t: 18, r: 589, b: 371 },
  xMin: -1, xMax: 20, xTicks: chiTicks, xLabels: chiTickLabels, xMinorStep: 1,
  xTitle: 'Chi Squared', points: chiPts,
  markers: [{ v: chiCircle, style: 'circle' }] });
</script>
</body></html>
